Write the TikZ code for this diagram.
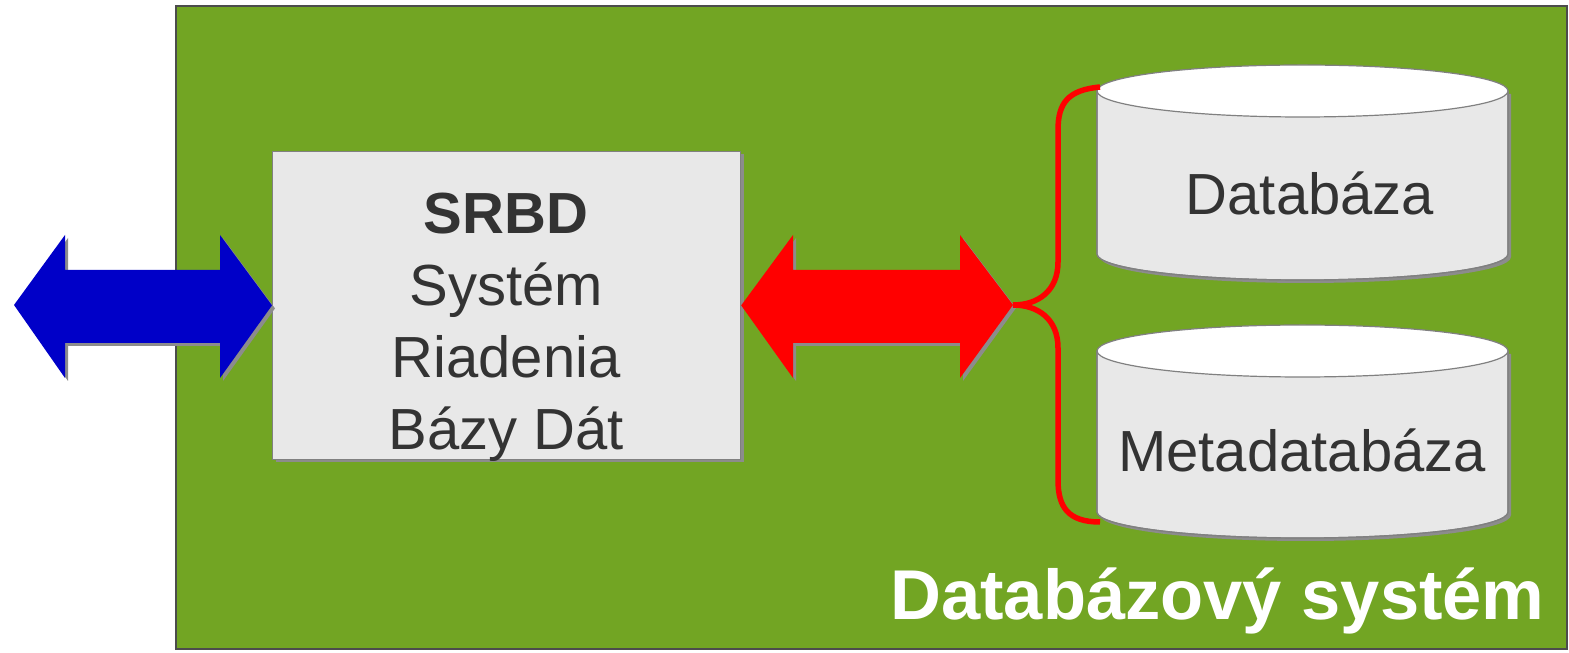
\documentclass[tikz,border=0pt]{standalone}
\usepackage{fontspec}
\setmainfont{Liberation Sans}
\usetikzlibrary{shadows}
\definecolor{bggreen}{RGB}{114,165,35}
\definecolor{boxgray}{RGB}{232,232,232}
\definecolor{txtgray}{RGB}{51,51,51}
\definecolor{arrblue}{RGB}{0,0,200}
\definecolor{arrred}{RGB}{255,0,0}
\tikzset{
  shad/.style={drop shadow={shadow xshift=3pt,shadow yshift=-3pt,fill=gray!90,opacity=1}},
  fatarrow/.style={shad},
  cylbody/.style={fill=boxgray,draw=gray,line width=1.2pt,shad},
  cyltop/.style={fill=white,draw=gray,line width=1.2pt},
  lbl/.style={font=\fontsize{58}{72}\selectfont,text=txtgray,inner sep=0pt},
}
\begin{document}
\begin{tikzpicture}[x=1pt,y=1pt]
\useasboundingbox (0,0) rectangle (1569,653);
% system background
\node[draw=gray!60!black,line width=1.5pt,fill=bggreen,minimum width=1391pt,minimum height=643pt,anchor=south west,inner sep=0pt] (sys) at (175,3) {};
\node[anchor=base east,font=\fontsize{70.5}{80}\bfseries\selectfont,text=white,inner sep=0pt] (syslbl) at (1545,33) {Databázový systém};
% SRBD box
\node[draw=gray,line width=1.2pt,fill=boxgray,shad,minimum width=468pt,minimum height=308pt,anchor=south west,inner sep=0pt] (srbd) at (272,193) {};
\node[lbl,align=center,anchor=base] (srbdtxt) at (506,203) {\textbf{SRBD}\\Systém\\Riadenia\\Bázy Dát};
% cylinders
\coordinate (c1t) at (1302.5,562);
\coordinate (c1b) at (1302.5,399);
\fill[cylbody] (1097,562) -- (1097,399) arc[start angle=180,end angle=360,x radius=205.5,y radius=26] -- (1508,562) -- cycle;
\draw[gray,line width=1.2pt] (1097,562) -- (1097,399) arc[start angle=180,end angle=360,x radius=205.5,y radius=26] -- (1508,562);
\draw[cyltop] (c1t) ellipse[x radius=205.5,y radius=26];
\node[lbl,anchor=base] (db) at (1310,438) {Databáza};
\coordinate (c2t) at (1302.5,302);
\coordinate (c2b) at (1302.5,141);
\fill[cylbody] (1097,302) -- (1097,141) arc[start angle=180,end angle=360,x radius=205.5,y radius=26] -- (1508,302) -- cycle;
\draw[gray,line width=1.2pt] (1097,302) -- (1097,141) arc[start angle=180,end angle=360,x radius=205.5,y radius=26] -- (1508,302);
\draw[cyltop] (c2t) ellipse[x radius=205.5,y radius=26];
\node[lbl,anchor=base] (mdb) at (1302,181) {Metadatabáza};
% blue arrow
\coordinate (bl) at (14,348);
\fill[arrblue,fatarrow] (bl) -- (65,418) -- (65,383) -- (220,383) -- (220,418) -- (srbd.west) -- (220,275) -- (220,310) -- (65,310) -- (65,275) -- cycle;
% red arrow
\coordinate (rr) at (1013,348);
\fill[arrred,fatarrow] (srbd.east) -- (793,418) -- (793,383) -- (960,383) -- (960,418) -- (rr) -- (960,275) -- (960,310) -- (793,310) -- (793,275) -- cycle;
% brace
\coordinate (b1) at (1100,566);
\coordinate (b2) at (1100,131);
\draw[arrred,line width=5.5pt] (b1) .. controls (1068,563) and (1058,550) .. (1058,523) -- (1058,391) .. controls (1058,362) and (1038,348) .. (rr) .. controls (1038,348) and (1058,334) .. (1058,305) -- (1058,173) .. controls (1058,146) and (1068,131) .. (b2);
\end{tikzpicture}
\end{document}
